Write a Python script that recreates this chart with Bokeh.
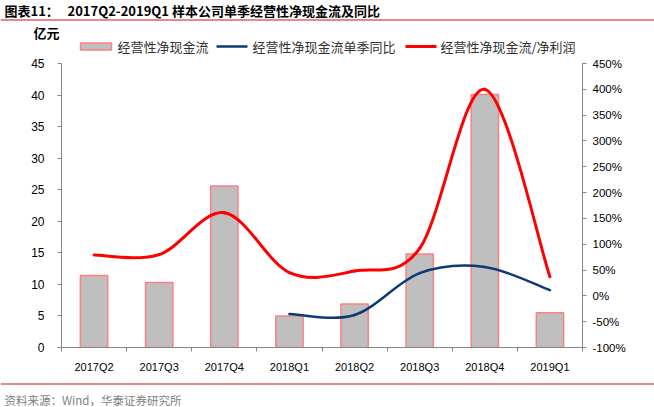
import numpy as np
from bokeh.plotting import figure
from bokeh.layouts import column
from bokeh.models import (ColumnDataSource, Range1d, LinearAxis, FixedTicker,
                          PrintfTickFormatter)
from bokeh.core.properties import value
from bokeh.embed import file_html
from bokeh.resources import INLINE

# Data
quarters = ["2017Q2", "2017Q3", "2017Q4", "2018Q1", "2018Q2", "2018Q3", "2018Q4", "2019Q1"]
cash_flow = [11.4, 10.3, 25.6, 5.0, 6.9, 14.8, 40.1, 5.5]             # 亿元
cash_flow_yoy = [None, None, None, -35, -37, 44, 56, 11]                # %
cash_to_profit = [79, 80, 161, 45, 48, 92, 400, 37]                     # %

title_parts = ["图表11：", "2017Q2-2019Q1 样本公司单季经营性净现金流及同比"]
unit_label = "亿元"
series_names = ["经营性净现金流", "经营性净现金流单季同比", "经营性净现金流/净利润"]
source_note = "资料来源：Wind，华泰证券研究所"

left_ticks = list(range(0, 50, 5))
right_ticks = list(range(-100, 500, 50))

W = 654
CJK = value("Noto Sans CJK SC")
AX = "Liberation Sans"
RED = "#ff0000"
BLUE = "#0b3a78"
RULE = "#c8161d"
BAR_FILL = "#bfbfbf"
BAR_LINE = "#ff8080"


def smooth(xs, ys):
    # Excel-like smoothed line: Catmull-Rom converted to cubic bezier pieces
    pts = [(x, y) for x, y in zip(xs, ys) if y is not None]
    n = len(pts)
    d = dict(x0=[], y0=[], x1=[], y1=[], cx0=[], cy0=[], cx1=[], cy1=[])
    for i in range(n - 1):
        p0 = np.array(pts[max(i - 1, 0)], float)
        p1 = np.array(pts[i], float)
        p2 = np.array(pts[i + 1], float)
        p3 = np.array(pts[min(i + 2, n - 1)], float)
        c1 = p1 + (p2 - p0) / 6
        c2 = p2 - (p3 - p1) / 6
        d["x0"].append(p1[0]); d["y0"].append(p1[1])
        d["x1"].append(p2[0]); d["y1"].append(p2[1])
        d["cx0"].append(c1[0]); d["cy0"].append(c1[1])
        d["cx1"].append(c2[0]); d["cy1"].append(c2[1])
    return ColumnDataSource(d)


def blank(height):
    # pixel-space strip, not aligned with the chart frame below/above it
    f = figure(width=W, height=height, x_range=Range1d(0, W), y_range=Range1d(0, height),
               toolbar_location=None, output_backend="svg", min_border=0,
               x_axis_location=None, y_axis_location=None, frame_align=False)
    f.grid.visible = False
    f.outline_line_color = None
    return f


# header: title, rule, unit, legend
head = blank(55)
head.text(x=[4, 67], y=[45.5, 45.5], text=title_parts, text_font=CJK, text_font_style="bold",
          text_font_size="13px", text_baseline="middle", text_color="#000000")
head.segment(x0=[0], y0=[35.5], x1=[W], y1=[35.5], line_color=RULE, line_width=1.2)
head.text(x=[33], y=[23], text=[unit_label], text_font=CJK, text_font_style="bold",
          text_font_size="13px", text_baseline="middle", text_color="#000000")

# legend keys
head.quad(left=[80], right=[111], bottom=[5.5], top=[12.5], fill_color=BAR_FILL,
          line_color=BAR_LINE, line_width=1.5)
head.segment(x0=[216], y0=[9], x1=[247], y1=[9], line_color=BLUE, line_width=2.5)
head.segment(x0=[405], y0=[9], x1=[436], y1=[9], line_color=RED, line_width=3)
head.text(x=[117, 252, 440], y=[9, 9, 9], text=series_names, text_font=CJK,
          text_font_size="13px", text_baseline="middle", text_color="#333333")

# main chart
xs = list(range(len(quarters)))
p = figure(width=W, height=320, x_range=Range1d(-0.5, len(quarters) - 0.5),
           y_range=Range1d(0, 45), toolbar_location=None, output_backend="svg",
           min_border_left=61, min_border_right=72, min_border_top=8, min_border_bottom=28,
           frame_align=False)
p.grid.visible = False
p.outline_line_color = None
p.extra_y_ranges["pct"] = Range1d(-100, 450)

bars = p.vbar(x=xs, top=cash_flow, width=0.42, fill_color=BAR_FILL,
              line_color=BAR_LINE, line_width=1.5)
red = p.bezier(source=smooth(xs, cash_to_profit), x0="x0", y0="y0", x1="x1", y1="y1",
               cx0="cx0", cy0="cy0", cx1="cx1", cy1="cy1", y_range_name="pct",
               line_color=RED, line_width=3, line_cap="round")
blue = p.bezier(source=smooth(xs, cash_flow_yoy), x0="x0", y0="y0", x1="x1", y1="y1",
                cx0="cx0", cy0="cy0", cx1="cx1", cy1="cy1", y_range_name="pct",
                line_color=BLUE, line_width=2.5, line_cap="round")

right = LinearAxis(y_range_name="pct")
p.add_layout(right, "right")

for ax in (p.xaxis[0], p.yaxis[0], right):
    ax.axis_line_color = "#868686"
    ax.major_tick_line_color = "#868686"
    ax.minor_tick_line_color = "#868686"
    ax.major_label_text_font = AX
    ax.major_label_text_color = "#000000"

p.yaxis[0].ticker = FixedTicker(ticks=left_ticks, minor_ticks=[])
p.yaxis[0].major_tick_in = 0
p.yaxis[0].major_tick_out = 4
p.yaxis[0].major_label_standoff = 13
p.yaxis[0].major_label_text_font_size = "12px"

right.ticker = FixedTicker(ticks=right_ticks, minor_ticks=[])
right.formatter = PrintfTickFormatter(format="%d%%")
right.major_tick_in = 0
right.major_tick_out = 4
right.major_label_standoff = 6
right.major_label_text_font_size = "11.5px"

xa = p.xaxis[0]
xa.ticker = FixedTicker(ticks=xs, minor_ticks=[i - 0.5 for i in range(len(quarters) + 1)])
xa.major_label_overrides = {i: q for i, q in enumerate(quarters)}
xa.major_tick_in = 0
xa.major_tick_out = 0
xa.minor_tick_in = 0
xa.minor_tick_out = 4
xa.major_label_standoff = 9
xa.major_label_text_font_size = "11px"

# footer: rule and source
foot = blank(32)
foot.segment(x0=[0], y0=[23.5], x1=[W], y1=[23.5], line_color=RULE, line_width=1.2)
foot.text(x=[4], y=[8], text=[source_note], text_font=CJK, text_font_size="11.5px",
          text_baseline="middle", text_color="#808080")

layout = column(head, p, foot, spacing=0)
open("out.html", "w").write(file_html(layout, INLINE))
